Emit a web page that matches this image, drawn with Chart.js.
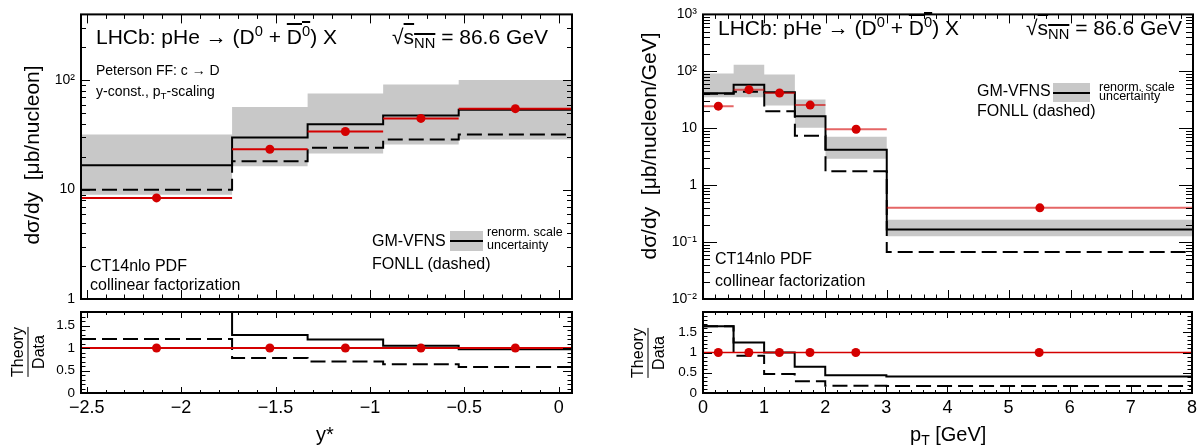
<!DOCTYPE html>
<html>
<head>
<meta charset="utf-8">
<script src="https://cdn.jsdelivr.net/npm/chart.js@4.4.1/dist/chart.umd.min.js"></script>
<style>
  body { margin: 0; background: #fff; }
  #wrap { position: relative; width: 1201px; height: 447px; overflow: hidden;
          font-family: "Liberation Sans", Arial, sans-serif; color: #000; }
  canvas { position: absolute; left: 0; top: 0; }
  .t { position: absolute; white-space: nowrap; line-height: 1; }
  .sup { font-size: 70%; position: relative; top: -0.55em; }
  .sub { font-size: 70%; position: relative; top: 0.3em; }
  .ol { text-decoration: overline; }
  .rot { position: absolute; white-space: nowrap; line-height: 1;
         transform: translate(-50%, -50%) rotate(-90deg); }
  .frac { text-align: center; font-size: 16px; }
  .frac hr { border: 0; border-top: 1.5px solid #000; margin: 2px 0; }
  .lbox { position: absolute; background: #c8c8c8; }
  .lbox div { position: absolute; left: 0; right: 0; height: 2px; background: #000; }
</style>
</head>
<body>
<div id="wrap">
  <canvas id="topY" width="1201" height="447"></canvas>
  <canvas id="ratY" width="1201" height="447"></canvas>
  <canvas id="topPt" width="1201" height="447"></canvas>
  <canvas id="ratPt" width="1201" height="447"></canvas>

  <!-- left panel text -->
  <div class="t" style="left:96px;top:26px;font-size:21px">LHCb: pHe &rarr; (D<span class="sup">0</span> + <span class="ol">D<span class="sup">0</span></span>) X</div>
  <div class="t" style="right:653px;top:26px;font-size:21px">&radic;<span class="ol">s<span class="sub">NN</span></span> = 86.6 GeV</div>
  <div class="t" style="left:96px;top:63px;font-size:14px">Peterson FF: c &rarr; D</div>
  <div class="t" style="left:96px;top:84px;font-size:14px">y-const., p<span class="sub">T</span>-scaling</div>
  <div class="t" style="left:90px;top:258px;font-size:16px">CT14nlo PDF</div>
  <div class="t" style="left:90px;top:277px;font-size:16px">collinear factorization</div>
  <div class="t" style="left:372px;top:233px;font-size:16px">GM-VFNS</div>
  <div class="lbox" style="left:450px;top:231px;width:33px;height:20px"><div style="top:9px"></div></div>
  <div class="t" style="left:487px;top:226px;font-size:12.5px">renorm. scale</div>
  <div class="t" style="left:487px;top:239px;font-size:12.5px">uncertainty</div>
  <div class="t" style="left:372px;top:256px;font-size:16px">FONLL (dashed)</div>
  <div class="rot" style="left:31px;top:155px;font-size:21px">d&sigma;/dy&nbsp;&nbsp;[&mu;b/nucleon]</div>
  <div class="rot frac" style="left:28px;top:352px"><div>Theory</div><hr><div>Data</div></div>
  <div class="t" style="left:316px;top:424px;font-size:20px">y*</div>

  <!-- right panel text -->
  <div class="t" style="left:718px;top:17px;font-size:21px">LHCb: pHe &rarr; (D<span class="sup">0</span> + <span class="ol">D<span class="sup">0</span></span>) X</div>
  <div class="t" style="right:19px;top:17px;font-size:21px">&radic;<span class="ol">s<span class="sub">NN</span></span> = 86.6 GeV</div>
  <div class="t" style="left:715px;top:251px;font-size:16px">CT14nlo PDF</div>
  <div class="t" style="left:715px;top:273px;font-size:16px">collinear factorization</div>
  <div class="t" style="left:977px;top:83px;font-size:16px">GM-VFNS</div>
  <div class="lbox" style="left:1053px;top:83px;width:37px;height:19px"><div style="top:8.5px"></div></div>
  <div class="t" style="left:1099px;top:81px;font-size:12.5px">renorm. scale</div>
  <div class="t" style="left:1099px;top:90px;font-size:12.5px">uncertainty</div>
  <div class="t" style="left:977px;top:103px;font-size:16px">FONLL (dashed)</div>
  <div class="rot" style="left:648px;top:146px;font-size:21px">d&sigma;/dy&nbsp;&nbsp;[&mu;b/nucleon/GeV]</div>
  <div class="rot frac" style="left:648px;top:353px"><div>Theory</div><hr><div>Data</div></div>
  <div class="t" style="left:910px;top:424px;font-size:20px">p<span class="sub">T</span> [GeV]</div>
</div>

<script>
// ---- rapidity (y*) panel ----
const yEdges = [-2.53, -1.73, -1.33, -0.93, -0.53, 0.07];
const yCenters = [-2.13, -1.53, -1.13, -0.73, -0.23];
const yData = [8.4, 23.4, 34, 44.8, 55];
const yStat = [0.7, 0.6, 0.8, 1.0, 1.2];
const yGm = [16.7, 30, 39.6, 47.7, 53.7];
const yGmHi = [31.9, 57, 75.7, 91.3, 100.6];
const yGmLo = [9.0, 16.4, 21.4, 25.8, 28.8];
const yFonll = [10.0, 18.2, 24.2, 28.8, 31.9];
const yRatioGm = [2.0, 1.29, 1.19, 1.05, 0.97];
const yRatioFonll = [1.2, 0.78, 0.70, 0.64, 0.58];
const yTickVals = [-2.5, -2, -1.5, -1, -0.5, 0];

// ---- pT panel ----
const ptEdges = [0, 0.5, 1, 1.5, 2, 3, 8];
const ptCenters = [0.25, 0.75, 1.25, 1.75, 2.5, 5.5];
const ptData = [24.4, 47.6, 41.6, 25.5, 9.6, 0.40];
const ptStat = [1.5, 2.5, 2.5, 1.5, 0.6, 0.02];
const ptGm = [41, 58, 42.8, 16.2, 4.17, 0.167];
const ptGmHi = [92, 130, 88, 32, 7.1, 0.248];
const ptGmLo = [35, 35, 25, 10.2, 2.9, 0.126];
const ptFonll = [40.3, 43.8, 19.8, 7.4, 1.75, 0.067];
const ptRatioGm = [1.65, 1.25, 1.0, 0.65, 0.44, 0.41];
const ptRatioFonll = [1.65, 0.92, 0.47, 0.29, 0.18, 0.17];
const ptTickVals = [0, 1, 2, 3, 4, 5, 6, 7, 8];

const ratioTickVals = [0, 0.5, 1, 1.5];

const RED = '#d40000';
const GRAY = '#c8c8c8';
const YW = 60;   // fixed y axis width
const XH = 40;   // fixed x axis height (ratio panels)

Chart.defaults.font.family = '"Liberation Sans", Arial, sans-serif';
Chart.defaults.color = '#000';

function hist(edges, vals) {
  const p = vals.map((v, i) => ({ x: edges[i], y: v }));
  p.push({ x: edges[edges.length - 1], y: vals[vals.length - 1] });
  return p;
}
function xbars(edges, vals) {
  const p = [];
  vals.forEach((v, i) => p.push({ x: edges[i], y: v }, { x: edges[i + 1], y: v }, { x: edges[i + 1], y: null }));
  return p;
}
function ybars(xs, vals, errs) {
  const p = [];
  vals.forEach((v, i) => p.push({ x: xs[i], y: v - errs[i] }, { x: xs[i], y: v + errs[i] }, { x: xs[i], y: null }));
  return p;
}
function points(xs, vals) { return vals.map((v, i) => ({ x: xs[i], y: v })); }
function range(a, b, s) { const r = []; for (let v = a; v <= b + 1e-9; v += s) r.push(+v.toFixed(6)); return r; }
function logMinors(lo, hi) { const r = []; for (let d = lo; d < hi; d *= 10) for (let k = 2; k <= 9; k++) r.push(+(d * k).toPrecision(6)); return r; }
function logLabel(v) {
  const sup = { '-': '\u207B', '0': '\u2070', '1': '\u00B9', '2': '\u00B2', '3': '\u00B3' };
  const e = Math.round(Math.log10(v));
  if (e === 0) return '1';
  if (e === 1) return '10';
  return '10' + String(e).split('').map(c => sup[c]).join('');
}
const minus = v => String(v).replace('-', '\u2212');

// ROOT style frame with ticks inside on all four sides
const framePlugin = {
  id: 'frame',
  afterDatasetsDraw(chart, args, o) {
    const { ctx, chartArea: a } = chart;
    const xs = chart.scales.x, ys = chart.scales.y;
    ctx.save();
    ctx.strokeStyle = '#000';
    ctx.lineWidth = 1;
    const seg = (x1, y1, x2, y2) => { ctx.beginPath(); ctx.moveTo(x1, y1); ctx.lineTo(x2, y2); ctx.stroke(); };
    const xt = (vals, len) => vals.forEach(v => {
      if (v < xs.min || v > xs.max) return;
      const p = Math.round(xs.getPixelForValue(v)) + 0.5;
      seg(p, a.bottom, p, a.bottom - len);
      seg(p, a.top, p, a.top + len);
    });
    const yt = (vals, len) => vals.forEach(v => {
      if (v < ys.min || v > ys.max) return;
      const p = Math.round(ys.getPixelForValue(v)) + 0.5;
      seg(a.left, p, a.left + len, p);
      seg(a.right, p, a.right - len, p);
    });
    xt(o.xMajor, o.xLen[0]); xt(o.xMinor, o.xLen[1]);
    yt(o.yMajor, o.yLen[0]); yt(o.yMinor, o.yLen[1]);
    ctx.lineWidth = 2;
    ctx.strokeRect(a.left, a.top, a.right - a.left, a.bottom - a.top);
    ctx.restore();
  }
};

function makeChart(id, datasets, c) {
  const xh = c.xLabels ? XH : 0;
  return new Chart(document.getElementById(id), {
    type: 'line',
    data: { datasets },
    plugins: [framePlugin],
    options: {
      responsive: false,
      animation: false,
      events: [],
      layout: { padding: { left: c.frame[0] - YW, top: c.frame[1], right: 1201 - c.frame[2],
                           bottom: 447 - c.frame[3] - xh } },
      plugins: { legend: { display: false }, tooltip: { enabled: false }, frame: c.ticks },
      scales: {
        x: {
          type: 'linear', min: c.xMin, max: c.xMax, display: c.xLabels,
          grid: { display: false, drawTicks: false }, border: { display: false },
          ticks: { font: { size: 18 }, padding: 4, maxRotation: 0, autoSkip: false, callback: minus },
          afterBuildTicks: s => { s.ticks = c.xTicks.map(v => ({ value: v })); },
          afterFit: s => { s.height = xh; }
        },
        y: {
          type: c.yLog ? 'logarithmic' : 'linear', min: c.yMin, max: c.yMax,
          grid: { display: false, drawTicks: false }, border: { display: false },
          ticks: { font: { size: c.yFont }, padding: 6, autoSkip: false,
                   callback: c.yLog ? logLabel : v => String(v) },
          afterBuildTicks: s => { s.ticks = c.yTicks.map(v => ({ value: v })); },
          afterFit: s => { s.width = YW; }
        }
      }
    }
  });
}

function topSets(edges, centers, data, stat, gm, hi, lo, fonll, redLine) {
  return [
    { data: hist(edges, hi), stepped: true, borderWidth: 0, borderColor: 'transparent', pointRadius: 0,
      fill: '+1', backgroundColor: GRAY, order: 10, clip: 0 },
    { data: hist(edges, lo), stepped: true, borderWidth: 0, borderColor: 'transparent', pointRadius: 0,
      fill: false, order: 10, clip: 0 },
    { data: hist(edges, fonll), stepped: true, borderColor: '#000', borderWidth: 2, borderDash: [15, 6],
      pointRadius: 0, fill: false, order: 5, clip: 0 },
    { data: hist(edges, gm), stepped: true, borderColor: '#000', borderWidth: 2,
      pointRadius: 0, fill: false, order: 5, clip: 0 },
    { data: xbars(edges, data), borderColor: redLine.color, borderWidth: redLine.width,
      pointRadius: 0, fill: false, order: 2, clip: 0 },
    { data: ybars(centers, data, stat), borderColor: RED, borderWidth: 2,
      pointRadius: 0, fill: false, order: 2, clip: 0 },
    { data: points(centers, data), showLine: false, pointRadius: 4.5, pointBackgroundColor: RED,
      pointBorderWidth: 0, order: 1 }
  ];
}

function ratioSets(edges, centers, rgm, rfonll, xMin, xMax, lineW) {
  return [
    { data: hist(edges, rfonll), stepped: true, borderColor: '#000', borderWidth: 2, borderDash: [15, 6],
      pointRadius: 0, fill: false, order: 5, clip: 0 },
    { data: hist(edges, rgm), stepped: true, borderColor: '#000', borderWidth: 2,
      pointRadius: 0, fill: false, order: 5, clip: 0 },
    { data: [{ x: xMin, y: 1 }, { x: xMax, y: 1 }], borderColor: RED, borderWidth: lineW,
      pointRadius: 0, fill: false, order: 2, clip: 0 },
    { data: centers.map(x => ({ x, y: 1 })), showLine: false, pointRadius: 4.5, pointBackgroundColor: RED,
      pointBorderWidth: 0, order: 1 }
  ];
}

// left: d sigma / dy*
makeChart('topY',
  topSets(yEdges, yCenters, yData, yStat, yGm, yGmHi, yGmLo, yFonll, { color: RED, width: 2 }),
  { frame: [81, 10, 572, 299], xMin: -2.53, xMax: 0.07, xLabels: false, xTicks: yTickVals,
    yLog: true, yMin: 1, yMax: 400, yTicks: [1, 10, 100], yFont: 14,
    ticks: { xMajor: yTickVals, xMinor: range(-2.5, 0, 0.1), xLen: [9, 4.5],
             yMajor: [1, 10, 100], yMinor: logMinors(1, 400).filter(v => v <= 400), yLen: [9, 5] } });

makeChart('ratY',
  ratioSets(yEdges, yCenters, yRatioGm, yRatioFonll, -2.53, 0.07, 2),
  { frame: [81, 312, 572, 393], xMin: -2.53, xMax: 0.07, xLabels: true, xTicks: yTickVals,
    yLog: false, yMin: 0, yMax: 1.8, yTicks: ratioTickVals, yFont: 13.5,
    ticks: { xMajor: yTickVals, xMinor: range(-2.5, 0, 0.1), xLen: [6, 3],
             yMajor: ratioTickVals, yMinor: range(0, 1.8, 0.1), yLen: [9, 4.5] } });

// right: d sigma / dpT
makeChart('topPt',
  topSets(ptEdges, ptCenters, ptData, ptStat, ptGm, ptGmHi, ptGmLo, ptFonll, { color: 'rgba(212,0,0,0.6)', width: 2 }),
  { frame: [703, 10, 1193, 299], xMin: 0, xMax: 8, xLabels: false, xTicks: ptTickVals,
    yLog: true, yMin: 0.01, yMax: 1000, yTicks: [0.01, 0.1, 1, 10, 100, 1000], yFont: 14,
    ticks: { xMajor: ptTickVals, xMinor: range(0, 8, 0.2), xLen: [9, 4.5],
             yMajor: [0.01, 0.1, 1, 10, 100, 1000], yMinor: logMinors(0.01, 1000), yLen: [14, 7] } });

makeChart('ratPt',
  ratioSets(ptEdges, ptCenters, ptRatioGm, ptRatioFonll, 0, 8, 1.5),
  { frame: [703, 312, 1193, 393], xMin: 0, xMax: 8, xLabels: true, xTicks: ptTickVals,
    yLog: false, yMin: 0, yMax: 2, yTicks: ratioTickVals, yFont: 13.5,
    ticks: { xMajor: ptTickVals, xMinor: range(0, 8, 0.2), xLen: [6, 3],
             yMajor: ratioTickVals, yMinor: range(0, 2, 0.1), yLen: [9, 4.5] } });
</script>
</body>
</html>
